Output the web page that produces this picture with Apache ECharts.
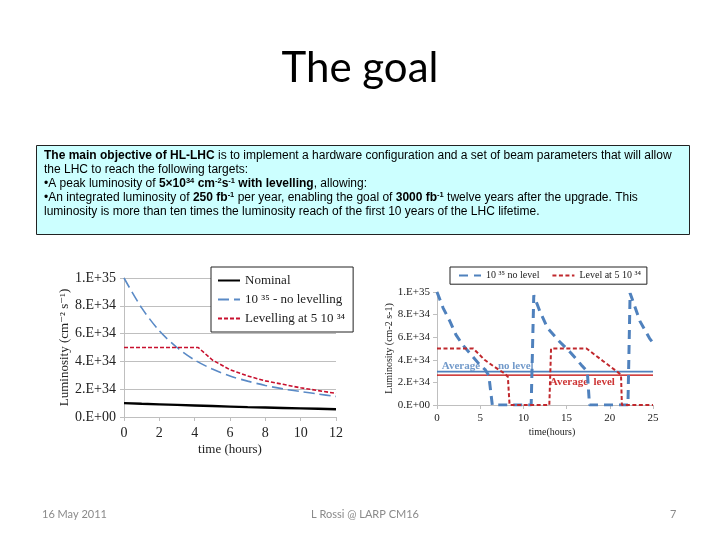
<!DOCTYPE html>
<html><head><meta charset="utf-8">
<script src="https://cdn.jsdelivr.net/npm/echarts@6/dist/echarts.min.js"></script>
<style>html,body{margin:0;padding:0;background:#fff}#c{width:720px;height:540px}</style>
</head><body><div id="c"></div><script>
// ---------- data (luminosity in units of 1E+34 cm-2 s-1) ----------
const yTickLabels = ['0.E+00','2.E+34','4.E+34','6.E+34','8.E+34','1.E+35'];

// left chart: single fill, 0-12 hours
const leftTimes    = [0,1,2,3,4,5,6,7,8,9,10,11,12];
const nominal      = [1.0,0.95,0.91,0.87,0.83,0.79,0.75,0.71,0.68,0.65,0.62,0.59,0.56];
const noLevelling  = [10,7.85,6.2,5.0,4.1,3.45,2.95,2.58,2.27,2.02,1.83,1.65,1.48];
const levelTimes   = [0,1,2,3,4,4.2,5,6,7,8,9,10,11,12];
const levelling    = [5,5,5,5,5,5,4.1,3.4,2.95,2.6,2.35,2.1,1.9,1.7];

// right chart: successive fills, 0-25 hours
const noLevelT  = [0,0.7,1.5,2.2,3.0,4.0,4.9,5.6,6.0,6.4,10.9,11.2,11.9,12.8,14.2,15.5,16.7,17.4,17.65,22.1,22.35,23.5,24.6,25];
const noLevelL  = [10,8.6,7.4,6.2,5.3,4.4,3.6,3.1,2.6,0,0,9.7,8.3,6.8,5.6,4.6,3.55,2.95,0,0,9.9,7.4,5.9,5.5];
const levelT    = [0,4.2,5.5,6.6,7.8,8.2,8.4,13.0,13.2,17.3,19.2,21.1,21.3,21.4,25];
const levelL    = [5,5,4.0,3.4,2.8,2.5,0,0,5,5,3.9,2.8,2.6,0,0];
const avgT         = [0,25];
const avgNoLevel   = [2.95,2.95];
const avgLevel     = [2.65,2.65];
// annotation anchors (time, luminosity, text)
const avgNotesBlue = [[0.55,3.4,'Average'],[7.05,3.4,'no level']];
const avgNotesRed  = [[13.05,2.0,'Average  level']];

const leftNames  = ['Nominal','10 \u00B3\u2075 - no levelling','Levelling at 5 10 \u00B3\u2074'];
const rightNames = ['10 \u00B3\u2075 no level','Level at 5 10 \u00B3\u2074'];

// ---------- helpers ----------
const zip = (xs, ys) => xs.map((x,i)=>[x, ys[i]]);
const SERIF = '"Liberation Serif","DejaVu Serif",serif';
const SANS = '"Liberation Sans",Arial,sans-serif';
const BLUE = '#4f81bd', RED = '#c8102e', GRID = '#bfbfbf';
const yFmt = v => yTickLabels[Math.round(v/2)];

const chart = echarts.init(document.getElementById('c'), null, {renderer:'canvas'});

const lineTxt = (y, text) => ({
  type:'text', left:44, top:y,
  style:{ text, fill:'#000', font:'12px '+SANS, lineHeight:14,
    rich:{ b:{fontWeight:'bold', fontSize:12, fontFamily:SANS, lineHeight:14},
           s:{fontWeight:'bold', fontSize:7.5, fontFamily:SANS, verticalAlign:'top', lineHeight:14} } }
});

chart.setOption({
  animation:false,
  backgroundColor:'#fff',
  grid:[
    {left:124, top:278, width:212, height:139},
    {left:437, top:292, width:216, height:113}
  ],
  xAxis:[
    {gridIndex:0, type:'value', min:0, max:12, interval:2,
     name:'time (hours)', nameLocation:'middle', nameGap:26,
     nameTextStyle:{fontFamily:SERIF, fontSize:13, color:'#222'},
     axisLine:{show:true, lineStyle:{color:GRID}}, axisTick:{show:true, length:4, lineStyle:{color:GRID}},
     splitLine:{show:false}, axisLabel:{fontFamily:SERIF, fontSize:14, color:'#222', margin:9}},
    {gridIndex:1, type:'value', min:0, max:25, interval:5,
     name:'time(hours)', nameLocation:'middle', nameGap:22,
     nameTextStyle:{fontFamily:SERIF, fontSize:10, color:'#222', padding:[0,0,0,14]},
     axisLine:{show:true, lineStyle:{color:GRID}}, axisTick:{show:true, length:4, lineStyle:{color:GRID}},
     splitLine:{show:false}, axisLabel:{fontFamily:SERIF, fontSize:11, color:'#222', margin:8}}
  ],
  yAxis:[
    {gridIndex:0, type:'value', min:0, max:10, interval:2,
     name:'Luminosity (cm\u207B\u00B2 s\u207B\u00B9)', nameLocation:'middle', nameGap:52,
     nameTextStyle:{fontFamily:SERIF, fontSize:13, color:'#222'},
     axisLine:{show:true, lineStyle:{color:GRID}}, axisTick:{show:true, length:4, lineStyle:{color:GRID}},
     splitLine:{show:true, lineStyle:{color:GRID}},
     axisLabel:{formatter:yFmt, fontFamily:SERIF, fontSize:14, color:'#222', margin:8}},
    {gridIndex:1, type:'value', min:0, max:10, interval:2,
     name:'Luminosity (cm-2 s-1)', nameLocation:'middle', nameGap:42,
     nameTextStyle:{fontFamily:SERIF, fontSize:10, color:'#222'},
     axisLine:{show:true, lineStyle:{color:GRID}}, axisTick:{show:true, length:4, lineStyle:{color:GRID}},
     splitLine:{show:false},
     axisLabel:{formatter:yFmt, fontFamily:SERIF, fontSize:11, color:'#222', margin:7}}
  ],
  legend:[
    {data:leftNames, orient:'vertical', left:211, top:267, padding:[7,8,7,6], itemGap:6,
     itemWidth:22, itemHeight:14, backgroundColor:'#fff', borderColor:'#222', borderWidth:1,
     itemStyle:{opacity:0},
     textStyle:{fontFamily:SERIF, fontSize:13, color:'#222'}},
    {data:rightNames, orient:'horizontal', left:450, top:267, padding:[3,6,3,8], itemGap:12,
     itemWidth:22, itemHeight:14, backgroundColor:'#fff', borderColor:'#222', borderWidth:1,
     itemStyle:{opacity:0},
     textStyle:{fontFamily:SERIF, fontSize:10, color:'#222'}}
  ],
  series:[
    {name:leftNames[1], type:'line', xAxisIndex:0, yAxisIndex:0, symbol:'none', smooth:0.3,
     data:zip(leftTimes,noLevelling), lineStyle:{color:'#5a8ac6', width:1.6, type:[11,5]}, itemStyle:{color:'#5a8ac6'}},
    {name:leftNames[2], type:'line', xAxisIndex:0, yAxisIndex:0, symbol:'none',
     data:zip(levelTimes,levelling), lineStyle:{color:RED, width:1.6, type:[4,2]}, itemStyle:{color:RED}},
    {name:leftNames[0], type:'line', xAxisIndex:0, yAxisIndex:0, symbol:'none',
     data:zip(leftTimes,nominal), lineStyle:{color:'#000', width:2.4}, itemStyle:{color:'#000'}},

    {name:'avgNo', type:'line', xAxisIndex:1, yAxisIndex:1, symbol:'none', silent:true,
     data:zip(avgT,avgNoLevel), lineStyle:{color:BLUE, width:1.8}},
    {name:'avgLev', type:'line', xAxisIndex:1, yAxisIndex:1, symbol:'none', silent:true,
     data:zip(avgT,avgLevel), lineStyle:{color:'#c00000', width:1.3}},
    {name:rightNames[0], type:'line', xAxisIndex:1, yAxisIndex:1, symbol:'none',
     data:zip(noLevelT,noLevelL), lineStyle:{color:BLUE, width:3, type:[9,6]}, itemStyle:{color:BLUE}},
    {name:rightNames[1], type:'line', xAxisIndex:1, yAxisIndex:1, symbol:'none',
     data:zip(levelT,levelL), lineStyle:{color:'#c0282d', width:2, type:[4,2.5]}, itemStyle:{color:'#c0282d'}},
    {name:'notesBlue', type:'scatter', xAxisIndex:1, yAxisIndex:1, symbolSize:0, silent:true,
     data:avgNotesBlue, label:{show:true, position:'right', distance:0, formatter:p=>p.data[2],
       fontFamily:SERIF, fontSize:11, fontWeight:'bold', color:BLUE}},
    {name:'notesRed', type:'scatter', xAxisIndex:1, yAxisIndex:1, symbolSize:0, silent:true,
     data:avgNotesRed, label:{show:true, position:'right', distance:0, formatter:p=>p.data[2],
       fontFamily:SERIF, fontSize:11, fontWeight:'bold', color:'#c00000'}}
  ],
  graphic:[
    {type:'text', left:'center', top:47,
     style:{text:'The goal', fill:'#000', font:'42px Lato, "Open Sans", sans-serif'}},
    {type:'rect', shape:{x:36.5, y:145.5, width:653, height:89},
     style:{fill:'#ccffff', stroke:'#222', lineWidth:1}, z:-1},
    lineTxt(149, '{b|The main objective of HL-LHC} is to implement a hardware configuration and a set of beam parameters that will allow'),
    lineTxt(163, 'the LHC to reach the following targets:'),
    lineTxt(177, '\u2022A peak luminosity of {b|5\u00D710}{s|34}{b| cm}{s|-2}{b|s}{s|-1}{b| with levelling}, allowing:'),
    lineTxt(191, '\u2022An integrated luminosity of {b|250 fb}{s|-1} per year, enabling the goal of {b|3000 fb}{s|-1} twelve years after the upgrade. This'),
    lineTxt(205, 'luminosity is more than ten times the luminosity reach of the first 10 years of the LHC lifetime.'),
    {type:'text', left:42, top:509, style:{text:'16 May 2011', fill:'#8a8a8a', font:'11px Lato, sans-serif'}},
    {type:'text', left:311, top:509, style:{text:'L Rossi @ LARP CM16', fill:'#8a8a8a', font:'11px Lato, sans-serif'}},
    {type:'text', left:670, top:509, style:{text:'7', fill:'#8a8a8a', font:'11px Lato, sans-serif'}}
  ]
});
</script></body></html>
